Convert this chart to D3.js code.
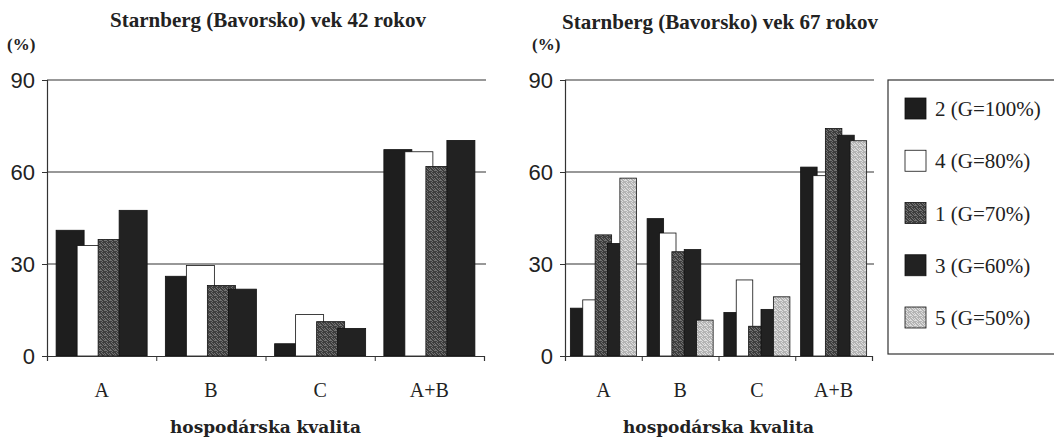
<!DOCTYPE html>
<html lang="sk">
<head>
<meta charset="UTF-8">
<title>Starnberg</title>
<script src="https://cdnjs.cloudflare.com/ajax/libs/d3/7.8.5/d3.min.js"></script>
<style>
  body { margin: 0; background: #fff; }
  svg { display: block; }
  .title { font-family: "Liberation Serif", serif; font-weight: bold; font-size: 21px; fill: #222; }
  .unit { font-family: "Liberation Serif", serif; font-weight: bold; font-size: 17px; fill: #222; }
  .ytick text { font-family: "Liberation Sans", sans-serif; font-size: 22px; fill: #222; }
  .cat { font-family: "Liberation Serif", serif; font-size: 20px; fill: #222; }
  .xlab { font-family: "DejaVu Serif", serif; font-weight: bold; font-size: 17px; fill: #222; }
  .leg { font-family: "Liberation Serif", serif; font-size: 21px; fill: #222; }
</style>
</head>
<body>
<script>
// categories on the x axis
var categories = ['A', 'B', 'C', 'A+B'];

// series names (legend order)
var seriesNames = ['2 (G=100%)', '4 (G=80%)', '1 (G=70%)', '3 (G=60%)', '5 (G=50%)'];

// age 42 - only four series
var age42_s2 = [41, 26, 4, 67.3];
var age42_s4 = [36, 29.5, 13.5, 66.6];
var age42_s1 = [38, 23, 11.2, 61.8];
var age42_s3 = [47.5, 21.8, 9, 70.3];

// age 67 - five series
var age67_s2 = [15.6, 44.8, 14.2, 61.6];
var age67_s4 = [18.3, 40.1, 24.8, 58.8];
var age67_s1 = [39.5, 34, 9.7, 74.2];
var age67_s3 = [36.7, 34.7, 15.2, 72];
var age67_s5 = [58, 11.7, 19.3, 70.2];

var yTicks = [0, 30, 60, 90];

var svg = d3.select('body').append('svg').attr('width', 1054).attr('height', 437);

// stipple textures like the scanned halftone
var defs = svg.append('defs');
var dots = [[0,0],[2,1],[4,3],[1,2],[3,4],[0,4],[4,0],[2,3],[1,0]];
function texture(id, c1, c2) {
  var p = defs.append('pattern').attr('id', id).attr('patternUnits', 'userSpaceOnUse')
    .attr('width', 5).attr('height', 5);
  p.append('rect').attr('width', 5).attr('height', 5).attr('fill', c1);
  dots.forEach(function(d) {
    p.append('rect').attr('x', d[0]).attr('y', d[1]).attr('width', 1).attr('height', 1).attr('fill', c2);
  });
}
texture('tex1', '#3e3e3e', '#727272');
texture('tex5', '#b4b4b4', '#dedede');

var fills = {
  s2: '#1e1e1e',
  s4: '#ffffff',
  s1: 'url(#tex1)',
  s3: '#222222',
  s5: 'url(#tex5)'
};

function panel(opt) {
  var g = svg.append('g');
  var y = d3.scaleLinear().domain([0, 90]).range([356, 80]);
  var x = d3.scaleBand().domain(categories).range([opt.x0, opt.x1]);

  // grid lines
  g.selectAll('line.grid').data(yTicks.slice(1)).enter().append('line')
    .attr('class', 'grid')
    .attr('x1', opt.x0).attr('x2', opt.x1 + 2)
    .attr('y1', function(d) { return y(d); }).attr('y2', function(d) { return y(d); })
    .attr('stroke', '#333').attr('stroke-width', 1.1);

  // bars, excel style: overlap 25%, gap 65%
  var n = opt.series.length;
  var bw = x.bandwidth() / (1 + (n - 1) * 0.75 + 0.65);
  opt.series.forEach(function(s, i) {
    g.selectAll('rect.' + s.key).data(s.values).enter().append('rect')
      .attr('x', function(d, j) { return x(categories[j]) + bw * 0.325 + i * bw * 0.75; })
      .attr('y', function(d) { return y(d); })
      .attr('width', bw)
      .attr('height', function(d) { return y(0) - y(d); })
      .attr('fill', fills[s.key])
      .attr('stroke', '#111').attr('stroke-width', 0.8);
  });

  // y axis
  var ya = d3.axisLeft(y).tickValues(yTicks).tickSize(5).tickPadding(7);
  var yg = g.append('g').attr('class', 'ytick').attr('transform', 'translate(' + opt.x0 + ',0)').call(ya);
  yg.select('.domain').attr('stroke', '#333').attr('stroke-width', 1.2);
  yg.selectAll('line').attr('stroke', '#333');

  // x axis
  var xs = d3.scaleLinear().domain([0, 4]).range([opt.x0, opt.x1]);
  var xa = d3.axisBottom(xs).tickValues([0, 1, 2, 3, 4]).tickSize(5).tickFormat('');
  var xg = g.append('g').attr('transform', 'translate(0,' + y(0) + ')').call(xa);
  xg.select('.domain').attr('stroke', '#333').attr('stroke-width', 1.2);
  xg.selectAll('line').attr('stroke', '#333');

  g.selectAll('text.cat').data(categories).enter().append('text')
    .attr('class', 'cat')
    .attr('x', function(d) { return x(d) + x.bandwidth() / 2; })
    .attr('y', 397)
    .attr('text-anchor', 'middle')
    .text(function(d) { return d; });

  g.append('text').attr('class', 'title').attr('x', opt.tx).attr('y', opt.ty)
    .attr('text-anchor', 'middle').text(opt.title);
  g.append('text').attr('class', 'unit').attr('x', opt.ux).attr('y', opt.uy).text('(%)');
  g.append('text').attr('class', 'xlab').attr('x', (opt.x0 + opt.x1) / 2).attr('y', 433)
    .attr('text-anchor', 'middle').text('hospodárska kvalita');
}

panel({
  x0: 47, x1: 484, tx: 268, ty: 27, ux: 7, uy: 50,
  title: 'Starnberg (Bavorsko) vek 42 rokov',
  series: [
    { key: 's2', values: age42_s2 },
    { key: 's4', values: age42_s4 },
    { key: 's1', values: age42_s1 },
    { key: 's3', values: age42_s3 }
  ]
});

panel({
  x0: 565, x1: 872, tx: 720, ty: 29, ux: 532, uy: 50,
  title: 'Starnberg (Bavorsko) vek 67 rokov',
  series: [
    { key: 's2', values: age67_s2 },
    { key: 's4', values: age67_s4 },
    { key: 's1', values: age67_s1 },
    { key: 's3', values: age67_s3 },
    { key: 's5', values: age67_s5 }
  ]
});

// legend
var keys = ['s2', 's4', 's1', 's3', 's5'];
var ly = d3.scalePoint().domain(keys).range([109, 318]);
var lg = svg.append('g');
lg.append('rect').attr('x', 888).attr('y', 80).attr('width', 190).attr('height', 274)
  .attr('fill', 'none').attr('stroke', '#333').attr('stroke-width', 1.2);
keys.forEach(function(k, i) {
  lg.append('rect').attr('x', 905).attr('y', ly(k) - 11).attr('width', 21).attr('height', 21)
    .attr('fill', fills[k]).attr('stroke', '#111').attr('stroke-width', 0.8);
  lg.append('text').attr('class', 'leg').attr('x', 935).attr('y', ly(k) + 7).text(seriesNames[i]);
});
</script>
</body>
</html>
